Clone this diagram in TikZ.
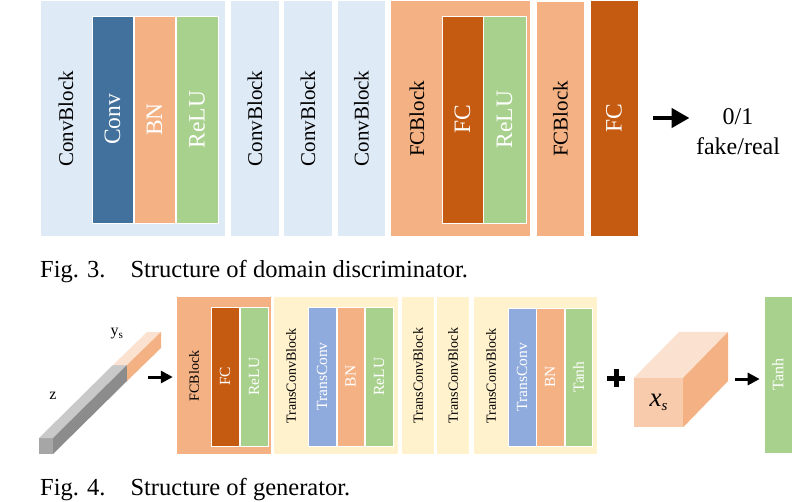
\documentclass[tikz,border=0pt]{standalone}
\usepackage{fontspec}
\setmainfont{Liberation Serif}
\usetikzlibrary{arrows.meta}
\definecolor{lblue}{HTML}{DEEBF7}
\definecolor{dblue}{HTML}{41719C}
\definecolor{lorange}{HTML}{F4B183}
\definecolor{dorange}{HTML}{C55A11}
\definecolor{lgreen}{HTML}{A9D18E}
\definecolor{tblue}{HTML}{8FAADC}
\definecolor{lyellow}{HTML}{FFF2CC}
\definecolor{cfront}{HTML}{F8CBAD}
\definecolor{ctop}{HTML}{FBE2D0}
\def\vt#1{\rotatebox{90}{#1}}

\begin{document}
\begin{tikzpicture}[x=1pt, y=-1pt,
	wh/.style 2 args={minimum width=#1pt, minimum height=#2pt},
	blk/.style={rectangle, inner sep=0pt},
	lay/.style={rectangle, inner sep=0pt, draw=white, line width=0.6pt, text=white, font=\fontsize{23.5}{23.5}\selectfont},
	lay2/.style={lay, font=\fontsize{15.5}{15.5}\selectfont},
	tag/.style={inner sep=0pt, font=\fontsize{21}{21}\selectfont},
	tag2/.style={inner sep=0pt, font=\fontsize{14}{14}\selectfont},
	figcap/.style={inner sep=0pt, anchor=base west, font=\fontsize{24.5}{24.5}\selectfont},
	bigarr/.style={line width=4.5pt, -{Triangle[length=18pt,width=19pt]}},
	arr/.style={line width=3pt, -{Triangle[length=12pt,width=12pt]}}]
	%%%%% START %%%%%
	\useasboundingbox (0,0) rectangle (792,501);
	
	% domain discriminator
	\node[blk, wh={184}{235}, fill=lblue] (cb1) at (133,118.5) {};
	\node[lay, wh={41}{207}, fill=dblue] (conv1) at (112.5,119.5) {\vt{Conv}};
	\node[lay, wh={41}{207}, fill=lorange] (bn1) at (154.5,119.5) {\vt{BN}};
	\node[lay, wh={42}{207}, fill=lgreen] (relu1) at (197,119.5) {\vt{ReLU}};
	\node[tag] (cbt1) at (66,119) {\vt{ConvBlock}};
	
	\node[blk, tag, wh={48}{235}, fill=lblue] (cb2) at (255,118.5) {\vt{ConvBlock}};
	\node[blk, tag, wh={48}{235}, fill=lblue] (cb3) at (308,118.5) {\vt{ConvBlock}};
	\node[blk, tag, wh={47}{235}, fill=lblue] (cb4) at (361.5,118.5) {\vt{ConvBlock}};
	
	\node[blk, wh={139}{235}, fill=lorange] (fcb1) at (460.5,118.5) {};
	\node[lay, wh={41}{207}, fill=dorange] (fc1) at (462.5,119.5) {\vt{FC}};
	\node[lay, wh={43}{207}, fill=lgreen] (relu2) at (504.5,119.5) {\vt{ReLU}};
	\node[tag] (fcbt1) at (417,119) {\vt{FCBlock}};
	
	\node[blk, tag, wh={47}{234}, fill=lorange] (fcb2) at (560.5,119) {\vt{FCBlock}};
	\node[lay, wh={48}{236}, fill=dorange] (fc2) at (614,118) {\vt{FC}};
	
	\node[align=center, font=\fontsize{24}{30}\selectfont] (out) at (738,132) {0/1\\fake/real};
	\draw[bigarr, shorten <=15pt, shorten >=3pt] (fc2.east) -- (fc2.east -| out.west);
	
	\node[figcap] (cap3) at (40,277) {Fig. 3.\hspace{25pt}Structure of domain discriminator.};
	
	% generator
	\fill[black!35] (39,438) rectangle (53,454);
	\fill[black!21] (39,438) -- (53,438) -- (127,365) -- (113,365) -- cycle;
	\fill[black!45] (53,438) -- (127,365) -- (127,381) -- (53,454) -- cycle;
	\fill[ctop] (113,365) -- (127,365) -- (161,332) -- (147,332) -- cycle;
	\fill[lorange] (127,365) -- (161,332) -- (161,348) -- (127,381) -- cycle;
	\node[font=\fontsize{16}{16}\selectfont] (z) at (53,396) {z};
	\node[font=\fontsize{16}{16}\selectfont] (ys) at (117,334) {y\textsubscript{s}};
	\coordinate (zin) at (148,377);
	
	\node[blk, wh={94}{157}, fill=lorange] (fcb3) at (224,375.5) {};
	\node[lay2, wh={28}{139}, fill=dorange] (fc3) at (225,376.5) {\vt{FC}};
	\node[lay2, wh={28}{139}, fill=lgreen] (relu3) at (254,376.5) {\vt{ReLU}};
	\node[tag2] (fcbt3) at (194,376) {\vt{FCBlock}};
	\draw[arr, shorten >=4pt] (zin) -- (zin -| fcb3.west);
	
	\node[blk, wh={124}{157}, fill=lyellow] (tcb1) at (336,375.5) {};
	\node[lay2, wh={28}{139}, fill=tblue] (tconv1) at (322,376.5) {\vt{TransConv}};
	\node[lay2, wh={27}{139}, fill=lorange] (bn2) at (350.5,376.5) {\vt{BN}};
	\node[lay2, wh={28}{139}, fill=lgreen] (relu4) at (379,376.5) {\vt{ReLU}};
	\node[tag2] (tcbt1) at (291,376) {\vt{TransConvBlock}};
	
	\node[blk, tag2, wh={32}{157}, fill=lyellow] (tcb2) at (418,375.5) {\vt{TransConvBlock}};
	\node[blk, tag2, wh={32}{157}, fill=lyellow] (tcb3) at (453,375.5) {\vt{TransConvBlock}};
	
	\node[blk, wh={123}{157}, fill=lyellow] (tcb4) at (535.5,375.5) {};
	\node[lay2, wh={28}{138}, fill=tblue] (tconv2) at (522,377) {\vt{TransConv}};
	\node[lay2, wh={28}{138}, fill=lorange] (bn3) at (550,377) {\vt{BN}};
	\node[lay2, wh={27}{138}, fill=lgreen] (tanh1) at (578.5,377) {\vt{Tanh}};
	\node[tag2] (tcbt4) at (491,376) {\vt{TransConvBlock}};
	
	% plus sign
	\node[inner sep=0pt, minimum size=18pt] (plus) at (616,378) {};
	\draw[line width=5pt] (plus.west) -- (plus.east) (plus.north) -- (plus.south);
	
	\node[blk, wh={49}{49}, fill=cfront, font=\fontsize{27}{27}\selectfont\itshape] (xs) at (658.5,402.5) {x\raisebox{-0.35ex}{\fontsize{15}{15}\selectfont s}};
	\fill[ctop] (xs.north west) -- (xs.north east) -- ++(45,-46) -- ++(-49,0) -- cycle;
	\fill[lorange] (xs.north east) -- ++(45,-46) -- ++(0,49) -- (xs.south east) -- cycle;
	\coordinate (xsout) at (728,379);
	
	\node[lay2, wh={28}{157}, font=\fontsize{16}{16}\selectfont, fill=lgreen] (tanh2) at (778,374.5) {\vt{Tanh}};
	\draw[arr, shorten <=7pt, shorten >=4pt] (xsout) -- (xsout -| tanh2.west);
	
	\node[figcap] (cap4) at (40,495) {Fig. 4.\hspace{25pt}Structure of generator.};
	%%%%% END %%%%%
\end{tikzpicture}
\end{document}
